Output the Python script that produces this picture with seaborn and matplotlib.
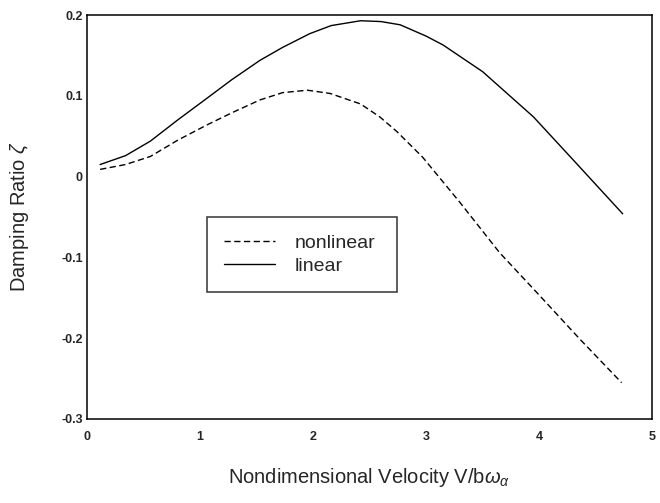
import numpy as np
import pandas as pd
import matplotlib
matplotlib.use("Agg")
import matplotlib.pyplot as plt
import seaborn as sns

# values
v_linear = [0.115, 0.34, 0.56, 0.80, 1.06, 1.28, 1.53, 1.73, 1.97, 2.16, 2.42,
            2.60, 2.77, 3.0, 3.15, 3.50, 3.95, 4.30, 4.74]
zeta_linear = [0.015, 0.026, 0.044, 0.070, 0.097, 0.120, 0.144, 0.160, 0.177,
               0.187, 0.193, 0.192, 0.188, 0.174, 0.163, 0.130, 0.074, 0.021,
               -0.046]
v_nonlinear = [0.115, 0.34, 0.56, 0.80, 1.06, 1.28, 1.53, 1.73, 1.95, 2.15,
               2.42, 2.59, 2.74, 2.97, 3.30, 3.65, 4.01, 4.36, 4.73]
zeta_nonlinear = [0.009, 0.015, 0.025, 0.045, 0.064, 0.079, 0.095, 0.104, 0.107,
                  0.103, 0.090, 0.074, 0.056, 0.024, -0.032, -0.094, -0.148,
                  -0.201, -0.255]
x_ticks = [0, 1, 2, 3, 4, 5]
y_ticks = [-0.3, -0.2, -0.1, 0, 0.1, 0.2]
y_tick_labels = ["-0.3", "-0.2", "-0.1", "0", "0.1", "0.2"]

df_lin = pd.DataFrame({"V": v_linear, "zeta": zeta_linear})
df_non = pd.DataFrame({"V": v_nonlinear, "zeta": zeta_nonlinear})

sns.set_style("white")
plt.rcParams["font.family"] = ["Liberation Sans", "DejaVu Sans"]
plt.rcParams["mathtext.fontset"] = "custom"
plt.rcParams["mathtext.rm"] = "Liberation Sans"
plt.rcParams["mathtext.it"] = "Liberation Sans:italic"

fig = plt.figure(figsize=(6.6, 5.03), dpi=100)
ax = fig.add_axes([0.132, 0.167, 0.856, 0.803])

sns.lineplot(data=df_non, x="V", y="zeta", ax=ax, color="black", lw=1.0,
             label="nonlinear")
sns.lineplot(data=df_lin, x="V", y="zeta", ax=ax, color="black", lw=1.0,
             label="linear")
ax.lines[0].set_dashes((4.5, 2.5))

ax.set_xlim(0, 5)
ax.set_ylim(-0.3, 0.2)
ax.set_xticks(x_ticks)
ax.set_xticklabels([str(t) for t in x_ticks], fontsize=9, fontweight="bold")
ax.set_yticks(y_ticks)
ax.set_yticklabels(y_tick_labels, fontsize=9, fontweight="bold")
ax.tick_params(direction="in", length=3, width=0.8, color="black")
ax.tick_params(axis="x", pad=9)
ax.tick_params(axis="y", pad=3)
for s in ax.spines.values():
    s.set_color("black")
    s.set_linewidth(1.1)

ax.set_xlabel(r"Nondimensional Velocity V/b$\omega_{\alpha}$", fontsize=14.5, labelpad=16)
ax.set_ylabel(r"Damping Ratio $\zeta$", fontsize=14.5, labelpad=22)

leg = ax.legend(loc="upper left", bbox_to_anchor=(0.212, 0.5, 0.336, 0.0),
                mode="expand", borderaxespad=0, fontsize=14, frameon=True,
                fancybox=False, handlelength=2.6, handletextpad=1.0,
                borderpad=0.9, labelspacing=0.25)
leg.get_frame().set_edgecolor("black")
leg.get_frame().set_linewidth(1.1)

fig.savefig("out.png", dpi=100)
